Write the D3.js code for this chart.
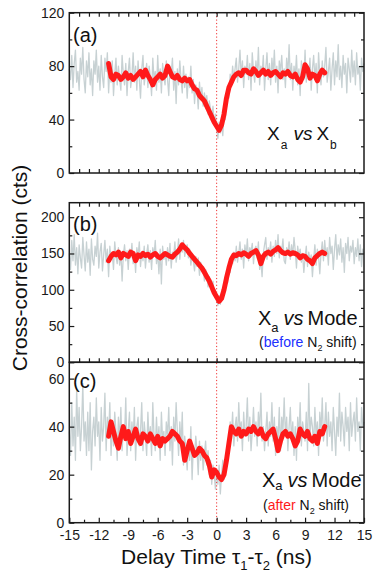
<!DOCTYPE html>
<html>
<head>
<meta charset="utf-8">
<script src="https://cdn.jsdelivr.net/npm/d3@7/dist/d3.min.js"></script>
<style>
  body { margin: 0; background: #fff; }
  svg { display: block; font-family: "Liberation Sans", Arial, Helvetica, sans-serif; }
  .tick text { font-size: 14px; fill: #1a1a1a; }
  .tick line { stroke: #1a1a1a; stroke-width: 1.2px; }
  .frame { fill: none; stroke: #1a1a1a; stroke-width: 1.5px; }
  .raw { fill: none; stroke: #c7d1d3; stroke-width: 1.3px; stroke-linejoin: round; }
  .smooth { fill: none; stroke: #ff1a1a; stroke-width: 5px; stroke-linejoin: round; stroke-linecap: round; }
  .zero { stroke: #f03030; stroke-width: 1px; stroke-dasharray: 1.2 2.2; }
</style>
</head>
<body>
<svg id="chart" width="382" height="581"></svg>
<script>
// sampling grid of the traces (ns)
const RAW_START = -15;
const RAW_STEP = 0.125;
const SMOOTH_START = -11;
const SMOOTH_STEP = 0.25;

// (a) Xa vs Xb, raw counts, one row per ns
const rawA = [
  78, 70, 88, 64, 82, 92, 68, 76,   62, 86, 74, 94, 70, 60, 84, 72,
  90, 66, 78, 58, 84, 74, 92, 68,   80, 62, 88, 72, 64, 86, 76, 90,
  60, 78, 68, 84, 58, 74, 86, 66,   80, 70, 62, 88, 74, 66, 82, 58,
  76, 86, 64, 72, 90, 68, 80, 62,   84, 70, 56, 78, 88, 66, 74, 82,
  64, 80, 72, 58, 86, 70, 76, 62,   88, 68, 78, 60, 82, 72, 66, 84,
  70, 58, 80, 74, 86, 62, 76, 52,   78, 66, 84, 70, 60, 80, 64, 74,
  56, 72, 64, 80, 60, 70, 52, 66,   62, 48, 68, 56, 64, 50, 60, 54,
  58, 44, 54, 48, 40, 50, 36, 44,   34, 26, 38, 30, 36, 28, 44, 40,
  50, 62, 56, 74, 66, 80, 70, 78,   86, 68, 78, 92, 72, 84, 64, 80,
  74, 88, 70, 82, 62, 90, 76, 68,   84, 72, 94, 66, 80, 74, 88, 62,
  78, 90, 70, 82, 66, 86, 74, 92,   68, 80, 60, 84, 76, 88, 70, 78,
  64, 86, 74, 96, 70, 82, 62, 80,   72, 88, 66, 78, 58, 84, 74, 70,
  92, 68, 80, 74, 86, 62, 78, 88,   70, 82, 60, 90, 74, 66, 84, 72,
  80, 94, 68, 76, 86, 62, 78, 90,   66, 84, 72, 96, 70, 80, 64, 88,
  74, 82, 60, 86, 78, 68, 92, 72,   84, 66, 90, 74, 80, 62, 86, 76,
  82
];
const smoothA = [
  82, 72, 70, 74,  73, 70, 72, 75,  71, 73, 70, 72,  74, 76, 72, 77,
  73, 70, 66, 70,  72, 74, 71, 73,  80, 76, 72, 71,  73, 70, 69, 71,
  69, 70, 66, 63,  62, 58, 56, 54,  50, 46, 42, 38,  35, 32, 36, 44,
  56, 64, 68, 72,  74, 75, 73, 77,  77, 75, 74, 78,  76, 73, 75, 77,
  74, 76, 73, 75,  76, 74, 72, 75,  74, 76, 73, 72,  74, 70, 68, 72,
  81, 78, 71, 74,  73, 69, 74, 77,  75
];

// (b) Xa vs Mode, before N2 shift
const rawB = [
  150, 128, 168, 140, 176, 134, 158, 122,   162, 144, 130, 172, 148, 126, 166, 138,
  156, 120, 170, 142, 134, 160, 146, 178,   130, 152, 164, 126, 148, 168, 138, 156,
  118, 160, 142, 150, 128, 166, 146, 136,   158, 134, 152, 112, 148, 162, 140, 154,
  128, 156, 144, 164, 136, 150, 124, 158,   146, 166, 132, 152, 140, 160, 130, 150,
  162, 138, 154, 128, 158, 146, 168, 136,   150, 122, 156, 108, 160, 142, 152, 134,
  158, 140, 164, 130, 152, 146, 166, 138,   150, 170, 142, 162, 152, 168, 146, 158,
  162, 144, 156, 134, 150, 140, 126, 146,   132, 144, 120, 138, 126, 132, 112, 128,
  120, 104, 118, 108, 98, 112, 94, 100,     86, 78, 92, 80, 96, 88, 104, 98,
  118, 110, 132, 124, 146, 136, 152, 140,   160, 138, 150, 166, 142, 156, 130, 162,
  148, 170, 140, 158, 152, 164, 136, 156,   160, 144, 166, 128, 140, 118, 150, 162,
  172, 142, 158, 150, 166, 138, 160, 146,   168, 150, 176, 144, 160, 154, 170, 140,
  136, 158, 150, 166, 142, 162, 148, 172,   154, 130, 160, 146, 156, 138, 150, 124,
  144, 160, 132, 152, 140, 148, 118, 142,   162, 134, 156, 146, 122, 150, 166, 140,
  168, 146, 158, 134, 172, 150, 160, 128,   156, 176, 142, 162, 148, 170, 138, 158,
  124, 164, 150, 172, 140, 160, 152, 168,   136, 158, 146, 170, 140, 162, 132, 156,
  150
];
const smoothB = [
  140, 146, 150, 148,  152, 144, 150, 148,  146, 152, 150, 140,  148, 146, 150, 147,
  149, 145, 148, 150,  146, 144, 147, 150,  148, 146, 145, 149,  152, 156, 162, 158,
  155, 150, 146, 142,  138, 134, 130, 124,  118, 112, 104, 96,   90, 84, 88, 100,
  116, 130, 142, 148,  147, 150, 148, 151,  149, 146, 150, 152,  154, 148, 136, 146,
  150, 152, 149, 153,  155, 158, 154, 151,  150, 152, 149, 151,  150, 148, 144, 147,
  146, 142, 140, 136,  144, 147, 150, 152,  150
];

// (c) Xa vs Mode, after N2 shift
const rawC = [
  38, 28, 50, 32, 44, 26, 56, 36,   48, 30, 40, 58, 34, 42, 28, 46,
  30, 50, 22, 38, 44, 32, 52, 36,   42, 26, 48, 34, 40, 54, 30, 44,
  36, 50, 28, 42, 32, 46, 38, 26,   44, 34, 48, 30, 40, 36, 52, 28,
  38, 46, 30, 42, 34, 48, 26, 40,   44, 32, 38, 50, 30, 42, 36, 28,
  46, 34, 40, 28, 50, 36, 30, 44,   32, 40, 26, 46, 34, 38, 28, 42,
  36, 48, 30, 40, 24, 44, 34, 50,   38, 28, 42, 32, 46, 24, 36, 30,
  22, 34, 26, 40, 18, 32, 28, 36,   30, 20, 34, 26, 32, 22, 28, 34,
  24, 30, 20, 26, 16, 24, 20, 14,   22, 16, 24, 12, 20, 26, 18, 22,
  26, 34, 30, 42, 36, 46, 32, 40,   44, 34, 50, 38, 42, 30, 46, 36,
  40, 52, 34, 44, 30, 38, 48, 36,   42, 32, 46, 38, 54, 34, 40, 30,
  38, 46, 32, 42, 36, 50, 34, 44,   28, 40, 34, 48, 30, 44, 38, 52,
  36, 44, 30, 40, 48, 34, 42, 28,   40, 26, 44, 36, 50, 32, 42, 38,
  34, 46, 30, 58, 36, 44, 40, 32,   48, 36, 42, 28, 46, 38, 52, 34,
  40, 50, 32, 46, 36, 42, 30, 48,   38, 28, 44, 36, 54, 34, 46, 40,
  32, 48, 38, 44, 30, 50, 36, 42,   46, 34, 52, 38, 42, 30, 48, 40,
  42
];
const smoothC = [
  36, 42, 38, 34,  31, 36, 40, 35,  38, 33, 36, 39,  35, 33, 37, 36,
  34, 37, 35, 33,  36, 32, 35, 34,  35, 36, 38, 37,  36, 34, 33, 26,
  30, 34, 31, 28,  29, 31, 30, 28,  27, 24, 19, 22,  21, 19, 18, 20,
  26, 33, 40, 38,  37, 39, 36, 38,  37, 39, 38, 40,  38, 37, 39, 36,
  35, 37, 38, 39,  35, 30, 34, 37,  38, 36, 37, 35,  32, 34, 39, 37,
  36, 38, 35, 34,  36, 33, 38, 37,  40
];

const X_DOMAIN = [-15, 15];
const X_LABEL_TICKS = [-15, -12, -9, -6, -3, 0, 3, 6, 9, 12, 15];

const LEFT = 69.3;
const RIGHT = 364;

const panels = [
  {
    id: "a", top: 12.7, bottom: 173, yMax: 120,
    major: [0, 40, 80, 120], minor: [20, 60, 100],
    raw: rawA, smooth: smoothA, topTicks: true, bottomLabels: false,
    labelY: 41.5,
  },
  {
    id: "b", top: 202.7, bottom: 362.3, yMax: 220,
    major: [0, 50, 100, 150, 200], minor: [25, 75, 125, 175],
    raw: rawB, smooth: smoothB, topTicks: true, bottomLabels: false,
    labelY: 231,
  },
  {
    id: "c", top: 362.3, bottom: 522.7, yMax: 66.8,
    major: [0, 20, 40, 60], minor: [10, 30, 50],
    raw: rawC, smooth: smoothC, topTicks: false, bottomLabels: true,
    labelY: 388,
  },
];

const svg = d3.select("#chart");
const x = d3.scaleLinear().domain(X_DOMAIN).range([LEFT, RIGHT]);

const rawLayer = svg.append("g");
const zeroLayer = svg.append("g");
const smoothLayer = svg.append("g");
const axisLayer = svg.append("g");
const textLayer = svg.append("g");

const toPoints = (values, start, step) => values.map((v, i) => [start + i * step, v]);

panels.forEach((p) => {
  const y = d3.scaleLinear().domain([0, p.yMax]).range([p.bottom, p.top]);
  const line = d3.line().x((d) => x(d[0])).y((d) => y(d[1]));

  rawLayer.append("path").attr("class", "raw").attr("d", line(toPoints(p.raw, RAW_START, RAW_STEP)));
  smoothLayer.append("path").attr("class", "smooth").attr("d", line(toPoints(p.smooth, SMOOTH_START, SMOOTH_STEP)));

  const g = axisLayer.append("g");

  // left / right ticks, pointing inwards
  g.append("g")
    .attr("transform", `translate(${LEFT},0)`)
    .call(d3.axisLeft(y).tickValues(p.major).tickSize(-5).tickPadding(5).tickFormat((d) => String(d)));
  g.append("g")
    .attr("transform", `translate(${LEFT},0)`)
    .call(d3.axisLeft(y).tickValues(p.minor).tickSize(-3).tickFormat(""));
  g.append("g")
    .attr("transform", `translate(${RIGHT},0)`)
    .call(d3.axisRight(y).tickValues(p.major).tickSize(-5).tickFormat(""));
  g.append("g")
    .attr("transform", `translate(${RIGHT},0)`)
    .call(d3.axisRight(y).tickValues(p.minor).tickSize(-3).tickFormat(""));

  if (p.bottomLabels) {
    g.append("g")
      .attr("transform", `translate(0,${p.bottom})`)
      .call(d3.axisBottom(x).tickValues(X_LABEL_TICKS).tickSize(-5).tickPadding(7.5).tickFormat((d) => String(d)));
    g.append("g")
      .attr("transform", `translate(0,${p.bottom})`)
      .call(d3.axisBottom(x).tickValues(d3.range(-13.5, 15, 3)).tickSize(-3).tickFormat(""));
  } else {
    g.append("g")
      .attr("transform", `translate(0,${p.bottom})`)
      .call(d3.axisBottom(x).tickValues(d3.range(-14, 15, 1)).tickSize(-4).tickFormat(""));
  }
  if (p.topTicks) {
    g.append("g")
      .attr("transform", `translate(0,${p.top})`)
      .call(d3.axisTop(x).tickValues(d3.range(-14, 15, 1)).tickSize(-4).tickFormat(""));
  }
  g.selectAll(".domain").remove();

  g.append("rect")
    .attr("class", "frame")
    .attr("x", LEFT)
    .attr("y", p.top)
    .attr("width", RIGHT - LEFT)
    .attr("height", p.bottom - p.top);

  textLayer.append("text")
    .attr("x", 73)
    .attr("y", p.labelY)
    .attr("font-size", 20)
    .attr("fill", "#111")
    .text(`(${p.id})`);
});

// zero delay marker across all panels
zeroLayer.append("line")
  .attr("class", "zero")
  .attr("x1", x(0)).attr("x2", x(0))
  .attr("y1", panels[0].top).attr("y2", panels[2].bottom);

// panel captions
const capA = textLayer.append("text").attr("x", 267).attr("y", 140).attr("font-size", 19).attr("fill", "#111");
capA.append("tspan").text("X");
capA.append("tspan").attr("font-size", 12).attr("dy", 9).attr("dx", 1).text("a");
capA.append("tspan").attr("font-style", "italic").attr("dy", -9).attr("dx", 6).text("vs");
capA.append("tspan").attr("dx", 4).text("X");
capA.append("tspan").attr("font-size", 12).attr("dy", 9).attr("dx", 1).text("b");

function modeCaption(bx, by, subDy, word, wordColor, noteY) {
  const t = textLayer.append("text").attr("x", bx).attr("y", by).attr("font-size", 20).attr("fill", "#111");
  t.append("tspan").text("X");
  t.append("tspan").attr("font-size", 13).attr("dy", subDy).attr("dx", 0).text("a");
  t.append("tspan").attr("font-style", "italic").attr("dy", -subDy).attr("dx", 5).text("vs");
  t.append("tspan").attr("dx", 4).text("Mode");

  const n = textLayer.append("text").attr("x", bx + 1).attr("y", noteY).attr("font-size", 14).attr("fill", "#111");
  n.append("tspan").text("(");
  n.append("tspan").attr("fill", wordColor).text(word);
  n.append("tspan").text(" N");
  n.append("tspan").attr("font-size", 9).attr("dy", 4).text("2");
  n.append("tspan").attr("dy", -4).text(" shift)");
  return t;
}
modeCaption(258, 325, 6.5, "before", "#2030ff", 346.5);
modeCaption(262, 486.5, 3, "after", "#ff1a1a", 510);

// axis titles
textLayer.append("text")
  .attr("transform", "translate(27,268) rotate(-90)")
  .attr("text-anchor", "middle")
  .attr("font-size", 21)
  .attr("fill", "#111")
  .text("Cross-correlation (cts)");

const xt = textLayer.append("text")
  .attr("x", 216.5)
  .attr("y", 564)
  .attr("text-anchor", "middle")
  .attr("font-size", 21)
  .attr("fill", "#111");
xt.append("tspan").text("Delay Time \u03c4");
xt.append("tspan").attr("font-size", 13).attr("dy", 6).text("1");
xt.append("tspan").attr("dy", -6).text("-\u03c4");
xt.append("tspan").attr("font-size", 13).attr("dy", 6).text("2");
xt.append("tspan").attr("dy", -6).text(" (ns)");
</script>
</body>
</html>
